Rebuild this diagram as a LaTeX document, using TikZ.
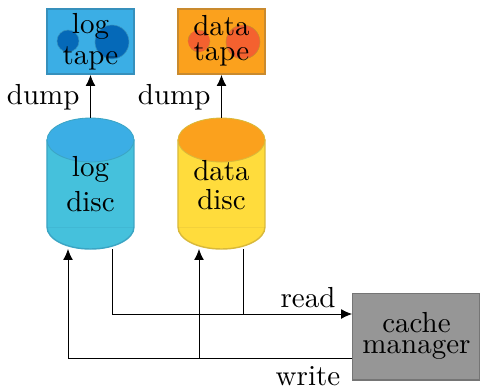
\documentclass[tikz,border=0pt]{standalone}
\usetikzlibrary{arrows.meta}
\definecolor{blueA}{HTML}{3BAEE5}
\definecolor{blueB}{HTML}{3690BC}
\definecolor{blueC}{HTML}{0569B8}
\definecolor{cyanA}{HTML}{45C1DC}
\definecolor{cyanB}{HTML}{3BA5C4}
\definecolor{orngA}{HTML}{FBA11D}
\definecolor{orngB}{HTML}{C98A2E}
\definecolor{redA}{HTML}{F4612F}
\definecolor{yellA}{HTML}{FFDC3C}
\definecolor{yellB}{HTML}{D9B93A}
\definecolor{grayA}{HTML}{969696}
\definecolor{grayB}{HTML}{757575}
\newcommand{\cyl}[4]{%
  \fill[#2,draw=#3,line width=0.5pt] (#1-43.5,140) -- (#1-43.5,227) arc[start angle=180,end angle=0,x radius=43.5,y radius=22] -- (#1+43.5,140) -- cycle;
  \draw[#3,opacity=0.3,line width=0.3pt] (#1-43.5,227) -- (#1+43.5,227);
  \fill[#4,draw=#3,line width=0.3pt] (#1,140) ellipse[x radius=43.5,y radius=22];
}
\tikzset{
  lbl/.style={inner sep=0pt,font=\fontsize{10.15}{#1}\selectfont,align=center},
  lbl/.default=12,
  conn/.style={draw=black,line width=0.3pt},
  arr/.style={conn,-{Latex[length=3.8pt,width=3.4pt]}}
}
\begin{document}
\begin{tikzpicture}[x=0.35pt,y=-0.35pt]
\useasboundingbox (0,0) rectangle (480,387);
% tapes
\node[draw=blueB,fill=blueA,line width=0.7pt,minimum width=30.4pt,minimum height=22.7pt,inner sep=0pt] (logtape) at (90.5,41.5) {};
\fill[blueC,draw=blueB,line width=0.2pt] (68,41) circle[radius=11];
\fill[blueC,draw=blueB,line width=0.2pt] (112,42) circle[radius=17];
\node[lbl=11] at (90.5,41.5) {log\\tape};
\node[draw=orngB,fill=orngA,line width=0.7pt,minimum width=30.4pt,minimum height=22.7pt,inner sep=0pt] (datatape) at (221.5,41.5) {};
\fill[redA,draw=orngB,line width=0.2pt,dashed] (199,41) circle[radius=11];
\fill[redA,draw=orngB,line width=0.2pt] (243,42) circle[radius=17];
\node[lbl=8.75] at (221.5,41) {data\\tape};
% discs
\cyl{90.5}{cyanA}{cyanB}{blueA}
\cyl{221.5}{yellA}{yellB}{orngA}
\node[lbl=12] (logdisc) at (90.5,184) {log\\disc};
\node[lbl=10] (datadisc) at (221.5,185) {data\\disc};
% cache
\node[draw=grayB,fill=grayA,line width=0.5pt,minimum width=44.6pt,minimum height=30.3pt,inner sep=0pt] (cache) at (416.5,336.5) {};
\node[lbl=7.4] at (416.5,335.5) {cache\\manager};
% connector ends
\coordinate (logtop) at (90.5,118);
\coordinate (datatop) at (221.5,118);
\coordinate (logout) at (112,249);
\coordinate (dataout) at (243,249);
\coordinate (login) at (68,249);
\coordinate (datain) at (199,249);
\coordinate (readj) at (243,314);
\coordinate (readin) at (cache.west |- readj);
\coordinate (writec) at (68,358);
\coordinate (writeo) at (cache.west |- writec);
\coordinate (writej) at (199,358);
% connectors
\draw[arr] (logtop) -- (logtape.south);
\draw[arr] (datatop) -- (datatape.south);
\draw[arr] (logout) |- (readin);
\draw[conn] (dataout) -- (readj);
\draw[arr] (writeo) -| (login);
\draw[arr] (writej) -- (datain);
% labels
\node[lbl,anchor=base east] (dumpa) at (80,104) {dump};
\node[lbl,anchor=base east] (dumpb) at (211,104) {dump};
\node[lbl,anchor=base] (readl) at (308,307.5) {read};
\node[lbl,anchor=base] (writel) at (308,385) {write};
\end{tikzpicture}
\end{document}
